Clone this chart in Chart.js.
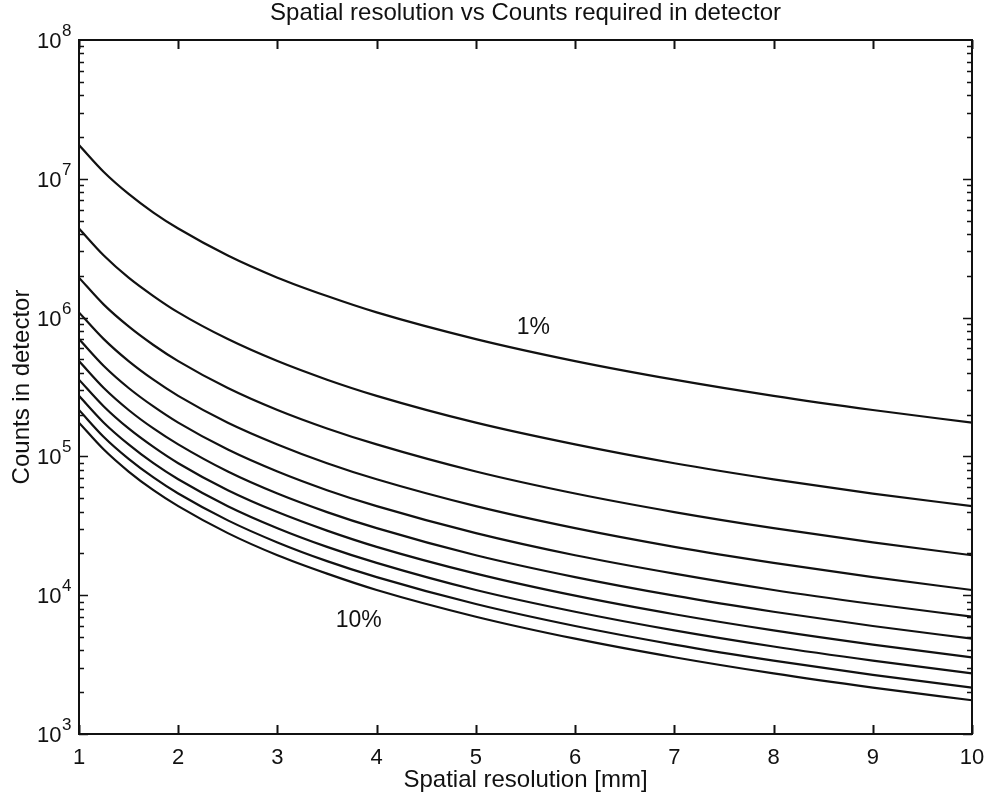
<!DOCTYPE html>
<html>
<head>
<meta charset="utf-8">
<script src="https://cdn.jsdelivr.net/npm/chart.js@4.4.1/dist/chart.umd.min.js"></script>
<style>
  body { margin: 0; background: #fff; }
  canvas { display: block; }
</style>
</head>
<body>
<canvas id="myChart" width="988" height="801"></canvas>
<script>
// resolucao espacial (mm) onde cada curva foi lida
var resolucao = [1, 1.25, 1.5, 1.75, 2, 2.5, 3, 3.5, 4, 5, 6, 7, 8, 9, 10];

// contagens necessarias no detector, uma lista por precisao (1% ... 10%)
var contagem1 = [1.75e7, 1.12e7, 7.78e6, 5.71e6, 4.38e6, 2.8e6, 1.94e6, 1.43e6, 1.09e6, 7.0e5, 4.86e5, 3.57e5, 2.73e5, 2.16e5, 1.75e5];
var contagem2 = [4.38e6, 2.8e6, 1.94e6, 1.43e6, 1.09e6, 7.0e5, 4.86e5, 3.57e5, 2.73e5, 1.75e5, 1.22e5, 8.93e4, 6.84e4, 5.4e4, 4.38e4];
var contagem3 = [1.94e6, 1.24e6, 8.64e5, 6.35e5, 4.86e5, 3.11e5, 2.16e5, 1.59e5, 1.22e5, 7.78e4, 5.4e4, 3.97e4, 3.04e4, 2.4e4, 1.94e4];
var contagem4 = [1.09e6, 7.0e5, 4.86e5, 3.57e5, 2.73e5, 1.75e5, 1.22e5, 8.93e4, 6.84e4, 4.38e4, 3.04e4, 2.23e4, 1.71e4, 1.35e4, 1.09e4];
var contagem5 = [7.0e5, 4.48e5, 3.11e5, 2.29e5, 1.75e5, 1.12e5, 7.78e4, 5.71e4, 4.38e4, 2.8e4, 1.94e4, 1.43e4, 1.09e4, 8.64e3, 7.0e3];
var contagem6 = [4.86e5, 3.11e5, 2.16e5, 1.59e5, 1.22e5, 7.78e4, 5.4e4, 3.97e4, 3.04e4, 1.94e4, 1.35e4, 9.92e3, 7.6e3, 6.0e3, 4.86e3];
var contagem7 = [3.57e5, 2.29e5, 1.59e5, 1.17e5, 8.93e4, 5.71e4, 3.97e4, 2.92e4, 2.23e4, 1.43e4, 9.92e3, 7.29e3, 5.58e3, 4.41e3, 3.57e3];
var contagem8 = [2.73e5, 1.75e5, 1.22e5, 8.93e4, 6.84e4, 4.38e4, 3.04e4, 2.23e4, 1.71e4, 1.09e4, 7.6e3, 5.58e3, 4.27e3, 3.38e3, 2.73e3];
var contagem9 = [2.16e5, 1.38e5, 9.6e4, 7.05e4, 5.4e4, 3.46e4, 2.4e4, 1.76e4, 1.35e4, 8.64e3, 6.0e3, 4.41e3, 3.38e3, 2.67e3, 2.16e3];
var contagem10 = [1.75e5, 1.12e5, 7.78e4, 5.71e4, 4.38e4, 2.8e4, 1.94e4, 1.43e4, 1.09e4, 7.0e3, 4.86e3, 3.57e3, 2.73e3, 2.16e3, 1.75e3];

var lista_contagens = [contagem1, contagem2, contagem3, contagem4, contagem5,
                       contagem6, contagem7, contagem8, contagem9, contagem10];

// marcas do eixo
var ticks_x = [1, 2, 3, 4, 5, 6, 7, 8, 9, 10];
var expoentes_y = [3, 4, 5, 6, 7, 8];

// rotulos das curvas (texto, resolucao, contagem)
var rotulos = [
    { texto: '1%', x: 5.58, y: 8.4e5 },
    { texto: '10%', x: 3.82, y: 6.6e3 }
];

var fonte = "'Liberation Sans', Arial, Helvetica, sans-serif";
var cor = '#111';

var datasets = [];
for (var i = 0; i < lista_contagens.length; i++) {
    var pontos = [];
    for (var j = 0; j < resolucao.length; j++) {
        pontos.push({ x: resolucao[j], y: lista_contagens[i][j] });
    }
    datasets.push({
        label: (i + 1) + '%',
        data: pontos,
        borderColor: cor,
        borderWidth: 2.2,
        pointRadius: 0,
        fill: false,
        cubicInterpolationMode: 'monotone'
    });
}

// moldura, marcas internas e rotulos 10^n
var eixosPlugin = {
    id: 'eixos',
    afterDraw: function (chart) {
        var ctx = chart.ctx;
        var area = chart.chartArea;
        var sx = chart.scales.x;
        var sy = chart.scales.y;
        ctx.save();
        ctx.strokeStyle = cor;
        ctx.lineWidth = 2;
        ctx.strokeRect(area.left, area.top, area.right - area.left, area.bottom - area.top);

        ctx.beginPath();
        ticks_x.forEach(function (v) {
            var px = Math.round(sx.getPixelForValue(v)) + 0.5;
            ctx.moveTo(px, area.bottom);
            ctx.lineTo(px, area.bottom - 9);
            ctx.moveTo(px, area.top);
            ctx.lineTo(px, area.top + 9);
        });
        ctx.stroke();

        ctx.lineWidth = 1.5;
        ctx.beginPath();
        for (var e = expoentes_y[0]; e < expoentes_y[expoentes_y.length - 1]; e++) {
            for (var m = 1; m < 10; m++) {
                var py = Math.round(sy.getPixelForValue(m * Math.pow(10, e))) + 0.5;
                var len = m === 1 ? 9 : 5;
                ctx.moveTo(area.left, py);
                ctx.lineTo(area.left + len, py);
                ctx.moveTo(area.right, py);
                ctx.lineTo(area.right - len, py);
            }
        }
        ctx.stroke();

        // 10 com expoente
        ctx.fillStyle = cor;
        ctx.textAlign = 'left';
        ctx.textBaseline = 'alphabetic';
        expoentes_y.forEach(function (e) {
            var py = sy.getPixelForValue(Math.pow(10, e));
            ctx.font = '22px ' + fonte;
            var w = ctx.measureText('10').width;
            ctx.fillText('10', 37, py + 8);
            ctx.font = '17px ' + fonte;
            ctx.fillText(String(e), 37 + w + 0.5, py - 4);
        });

        // rotulos das curvas
        ctx.font = '23px ' + fonte;
        ctx.textAlign = 'center';
        ctx.textBaseline = 'middle';
        rotulos.forEach(function (r) {
            ctx.fillText(r.texto, sx.getPixelForValue(r.x), sy.getPixelForValue(r.y));
        });
        ctx.restore();
    }
};

const ctx = document.getElementById('myChart');

var Grafico = new Chart(ctx, {
    type: 'line',
    data: { datasets: datasets },
    options: {
        responsive: false,
        animation: false,
        devicePixelRatio: 1,
        layout: { padding: { left: 0, right: 16, top: 0, bottom: 0 } },
        plugins: {
            legend: { display: false },
            tooltip: { enabled: false },
            title: {
                display: true,
                text: 'Spatial resolution vs Counts required in detector',
                color: cor,
                fullSize: false,
                font: { family: fonte, size: 24, weight: 'normal', lineHeight: 1 },
                padding: { top: 1, bottom: 15 }
            }
        },
        scales: {
            x: {
                type: 'linear',
                min: 1,
                max: 10,
                afterFit: function (s) {
                    s.height = 67;
                    s.paddingLeft = 0;
                    s.paddingRight = 0;
                },
                afterBuildTicks: function (s) {
                    s.ticks = ticks_x.map(function (v) { return { value: v }; });
                },
                grid: { display: false },
                border: { display: false },
                ticks: {
                    color: cor,
                    padding: 3,
                    maxRotation: 0,
                    font: { family: fonte, size: 22 }
                },
                title: {
                    display: true,
                    text: 'Spatial resolution [mm]',
                    color: cor,
                    font: { family: fonte, size: 24 },
                    padding: { top: 0, bottom: 6.6 }
                }
            },
            y: {
                type: 'logarithmic',
                min: 1e3,
                max: 1e8,
                afterFit: function (s) { s.width = 79; },
                grid: { display: false },
                border: { display: false },
                ticks: { display: false },
                title: {
                    display: true,
                    text: 'Counts in detector',
                    color: cor,
                    font: { family: fonte, size: 24 },
                    padding: { top: 7.6, bottom: 0 }
                }
            }
        }
    },
    plugins: [eixosPlugin]
});
</script>
</body>
</html>
